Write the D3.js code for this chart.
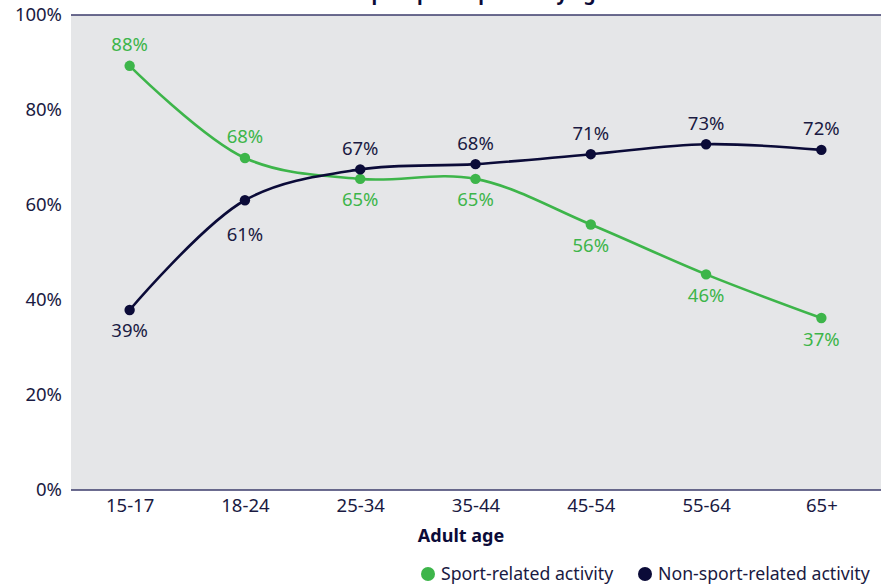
<!DOCTYPE html>
<html><head><meta charset="utf-8">
<script src="https://cdn.jsdelivr.net/npm/d3@7"></script>
<style>
html,body{margin:0;padding:0;background:#fff;}
svg{display:block;font-family:"Noto Sans",sans-serif;}
</style></head>
<body>
<svg id="chart" width="881" height="585"></svg>
<script>
const categories = ["15-17","18-24","25-34","35-44","45-54","55-64","65+"];
const sportValues = [89.3, 69.9, 65.5, 65.5, 55.9, 45.4, 36.2];
const sportLabels = ["88%","68%","65%","65%","56%","46%","37%"];
const nonSportValues = [37.9, 61.0, 67.5, 68.6, 70.7, 72.8, 71.6];
const nonSportLabels = ["39%","61%","67%","68%","71%","73%","72%"];
const yTicks = [0, 20, 40, 60, 80, 100];
const titleText = "Sport participation by age";
const xTitle = "Adult age";
const legendNames = ["Sport-related activity", "Non-sport-related activity"];

const green = "#3db54a", navy = "#0b0b38", textCol = "#1a1a42";
const svg = d3.select("#chart");
const m = {left: 71, right: 881, top: 15, bottom: 490};

const x = d3.scalePoint().domain(categories).range([72, 879]).padding(0.5);
const y = d3.scaleLinear().domain([0, 100]).range([m.bottom, m.top]);

// title (cut off at top as in reference)
svg.append("text").attr("x", 484).attr("y", 0).attr("text-anchor", "middle")
  .attr("font-size", 19).attr("font-weight", "bold").attr("fill", navy).text(titleText);

// plot background
svg.append("rect").attr("x", m.left).attr("y", m.top).attr("width", m.right - m.left)
  .attr("height", m.bottom - m.top).attr("fill", "#e5e6e8");

// top line
svg.append("line").attr("x1", m.left).attr("x2", m.right).attr("y1", y(100)).attr("y2", y(100))
  .attr("stroke", "#3b3b6b").attr("stroke-width", 1.5);

// y axis
const yAxis = svg.append("g").attr("transform", `translate(${m.left},0)`)
  .call(d3.axisLeft(y).tickValues(yTicks).tickSize(0).tickPadding(9).tickFormat(d => d + "%"));
yAxis.select(".domain").remove();
yAxis.selectAll("text").attr("font-size", 18.5).attr("fill", textCol).attr("font-family", '"Noto Sans",sans-serif');

// x axis
const xAxis = svg.append("g").attr("transform", `translate(0,${m.bottom})`)
  .call(d3.axisBottom(x).tickSize(0).tickPadding(9));
xAxis.select(".domain").attr("stroke", "#3b3b6b").attr("stroke-width", 1.5)
  .attr("d", `M${m.left},0H${m.right}`);
xAxis.selectAll("text").attr("font-size", 18.5).attr("fill", textCol).attr("font-family", '"Noto Sans",sans-serif');

svg.append("text").attr("x", 461).attr("y", 542).attr("text-anchor", "middle")
  .attr("font-size", 18).attr("font-weight", "bold").attr("fill", navy).text(xTitle);

const line = d3.line().x((d, i) => x(categories[i])).y(d => y(d)).curve(d3.curveCatmullRom.alpha(0.5));

const series = [
  {values: sportValues, labels: sportLabels, color: green, other: nonSportValues},
  {values: nonSportValues, labels: nonSportLabels, color: navy, other: sportValues}
];

series.forEach(s => {
  svg.append("path").datum(s.values).attr("d", line).attr("fill", "none")
    .attr("stroke", s.color).attr("stroke-width", 2.6);
  svg.selectAll(null).data(s.values).enter().append("circle")
    .attr("cx", (d, i) => x(categories[i])).attr("cy", d => y(d)).attr("r", 5.2).attr("fill", s.color);
  svg.selectAll(null).data(s.values).enter().append("text")
    .attr("x", (d, i) => x(categories[i]))
    .attr("y", (d, i) => d >= s.other[i] ? y(d) - 21 : y(d) + 21 + (Math.abs(d - s.other[i]) < 12 && i === 1 ? 13 : 0))
    .attr("dy", "0.35em").attr("text-anchor", "middle").attr("font-size", 18.5)
    .attr("fill", s.color === green ? green : textCol).text((d, i) => s.labels[i]);
});

// legend
const legend = svg.append("g");
const legX = [428, 645];
legendNames.forEach((name, i) => {
  legend.append("circle").attr("cx", legX[i]).attr("cy", 574).attr("r", 7)
    .attr("fill", i === 0 ? green : navy);
  legend.append("text").attr("x", legX[i] + 13).attr("y", 574).attr("dy", "0.35em")
    .attr("font-size", 17.7).attr("fill", textCol).text(name);
});
</script>
</body></html>
